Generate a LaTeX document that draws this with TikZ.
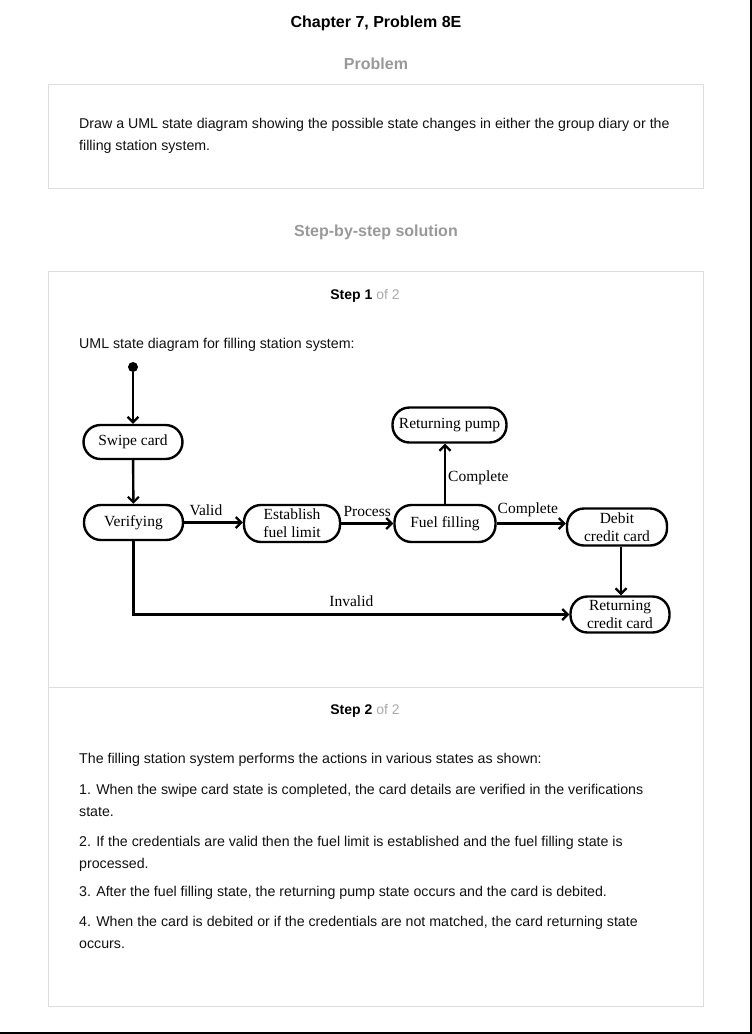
\documentclass[tikz,border=0pt]{standalone}
\usepackage{fontspec}
\setmainfont{Liberation Sans}
\newfontfamily\diagfont{Liberation Serif}
\usetikzlibrary{arrows.meta}

\definecolor{headgray}{HTML}{999999}
\definecolor{softgray}{HTML}{AAAAAA}
\definecolor{boxline}{HTML}{DDDDDD}
\definecolor{bodytext}{HTML}{111111}

\begin{document}
\begin{tikzpicture}[x=1pt,y=-1pt,
  heading/.style={font=\fontsize{16}{19}\selectfont\bfseries, anchor=base},
  bodyline/.style={font=\fontsize{14.2}{17}\selectfont, text=bodytext, anchor=base west, inner sep=0pt},
  panel/.style={draw=boxline, line width=1pt},
  state/.style={draw, line width=2.4pt, rectangle, rounded corners=17pt,
    font=\diagfont\fontsize{15.5}{18}\selectfont, align=center, inner sep=1pt},
  trans/.style={line width=2.4pt, -{Straight Barb[length=5.5pt,width=11pt,line width=2.2pt]}},
  guard/.style={font=\diagfont\fontsize{15.5}{15.5}\selectfont, inner sep=2pt}
]
\useasboundingbox (0,0) rectangle (752,1034);
\fill[white] (0,0) rectangle (752,1034);
% page edge rules
\draw[line width=2pt] (751,0) -- (751,1033) -- (0,1033);

% headings
\node[heading] (title) at (376,27) {Chapter 7, Problem 8E};
\node[heading, text=headgray] (probhead) at (376,69) {Problem};
\node[heading, text=headgray] (solhead) at (376,236) {Step-by-step solution};

% problem panel
\draw[panel] (48.5,84.5) rectangle (703,188.5);
\node[bodyline] (q1) at (79,128) {Draw a UML state diagram showing the possible state changes in either the group diary or the};
\node[bodyline] (q2) at (79,150) {filling station system.};

% solution panel
\draw[panel] (48.5,271.5) rectangle (703,1006);
\draw[panel] (48.5,687.5) -- (703,687.5);

\node[anchor=base, font=\fontsize{14}{17}\selectfont] (s1) at (365,299)
  {\textbf{Step 1} \textcolor{softgray}{of 2}};
\node[bodyline] (s1text) at (79,348) {UML state diagram for filling station system:};

% state diagram
\node[circle, fill, minimum size=10pt, inner sep=0pt] (init) at (133,367) {};
\node[state, minimum width=99pt, minimum height=34pt] (swipe) at (133,442) {Swipe card};
\node[state, minimum width=99pt, minimum height=35pt] (verify) at (133.5,522.5) {Verifying};
\node[state, minimum width=96pt, minimum height=37pt] (establish) at (292,523.5) {Establish\\fuel limit};
\node[state, minimum width=101pt, minimum height=37pt] (fuel) at (445,523.5) {Fuel filling};
\node[state, minimum width=114pt, minimum height=35pt] (rpump) at (449.5,425) {Returning pump};
\node[state, minimum width=100pt, minimum height=37pt] (debit) at (617,527) {Debit\\credit card};
\node[state, minimum width=99pt, minimum height=36pt] (rcredit) at (620,614.5) {Returning\\credit card};

\draw[trans] (init) -- (swipe);
\draw[trans] (swipe) -- (verify);
\draw[trans] (verify.east) -- node[guard, above=4pt, pos=0.37] {Valid} (verify.east -| establish.west);
\draw[trans] (establish.east) -- node[guard, above=4pt] {Process} (establish.east -| fuel.west);
\draw[trans] (fuel.north) -- node[guard, right, pos=0.44] {Complete} (fuel.north |- rpump.south);
\draw[trans] (fuel.east) -- node[guard, above=4pt, pos=0.45] {Complete} (fuel.east -| debit.west);
\draw[trans] ([xshift=4pt]debit.south) -- ([xshift=4pt]debit.south |- rcredit.north);
\draw[trans] (verify.south) |- node[guard, above=5pt, pos=0.75] {Invalid} (rcredit.west);

% step 2
\node[anchor=base, font=\fontsize{14}{17}\selectfont] (s2) at (365,714)
  {\textbf{Step 2} \textcolor{softgray}{of 2}};
\node[bodyline] (t0) at (79,763) {The filling station system performs the actions in various states as shown:};
\node[bodyline] (t1a) at (79,794) {1. When the swipe card state is completed, the card details are verified in the verifications};
\node[bodyline] (t1b) at (79,816) {state.};
\node[bodyline] (t2a) at (79,846) {2. If the credentials are valid then the fuel limit is established and the fuel filling state is};
\node[bodyline] (t2b) at (79,868) {processed.};
\node[bodyline] (t3) at (79,896) {3. After the fuel filling state, the returning pump state occurs and the card is debited.};
\node[bodyline] (t4a) at (79,926) {4. When the card is debited or if the credentials are not matched, the card returning state};
\node[bodyline] (t4b) at (79,948) {occurs.};
\end{tikzpicture}
\end{document}
